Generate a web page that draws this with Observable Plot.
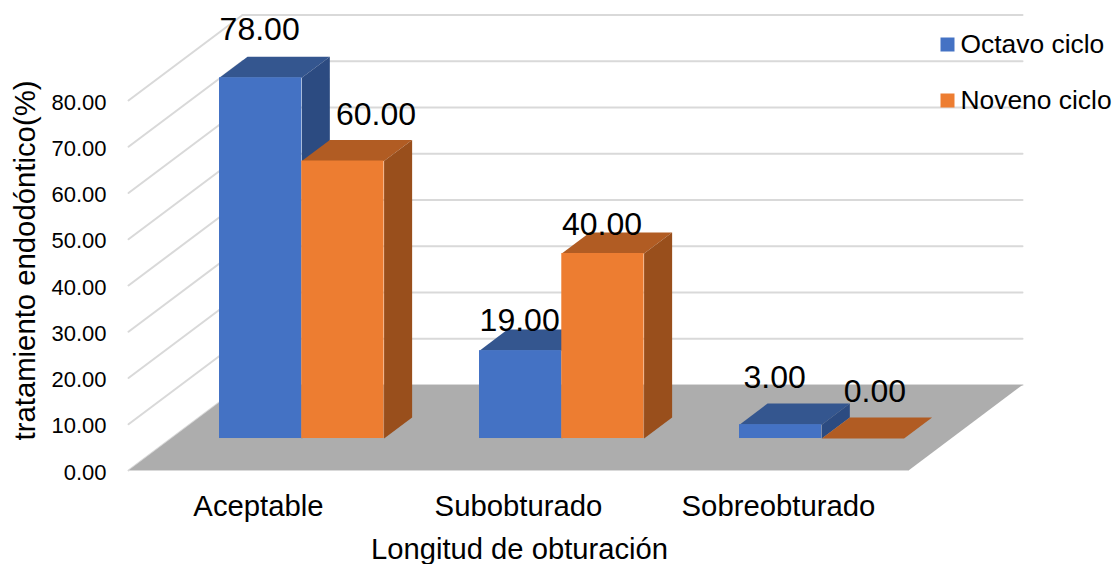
<!DOCTYPE html>
<html lang="es">
<head>
<meta charset="utf-8">
<title>Longitud de obturación</title>
<script src="https://cdn.jsdelivr.net/npm/d3@7"></script>
<script src="https://cdn.jsdelivr.net/npm/@observablehq/plot@0.6"></script>
<style>
  html, body { margin: 0; padding: 0; background: #fff; }
  svg { display: block; }
</style>
</head>
<body>
<div id="chart"></div>
<script>
// Chart values
const categories = ["Aceptable", "Subobturado", "Sobreobturado"];
const seriesNames = ["Octavo ciclo", "Noveno ciclo"];
const octavo = [78, 19, 3];
const noveno = [60, 40, 0];
const valueTicks = [0, 10, 20, 30, 40, 50, 60, 70, 80];

// Oblique projection: one unit of depth runs from the front of the floor to the back wall,
// expressed in x units (categories) and y units (percent).
const depthX = 0.4385;
const depthY = 18.49;
const project = (cat, value, depth) => ({x: cat + depth * depthX, y: value + depth * depthY});

// Placement of the boxes on the floor, in category and depth units
const barStart = 0.186;
const barWidth = 0.3165;
const depthFront = 0.374;
const depthBack = 0.62;

const palette = [
  {front: "#4472C4", top: "#34568F", side: "#2C4B81"},
  {front: "#ED7D31", top: "#B15C23", side: "#994F1C"}
];

const FONT = "'Liberation Sans', Arial, sans-serif";
const GRID = "#D9D9D9";
const fmt = d3.format(".2f");

// A filled polygon given as [category, value, depth] corners
const face = (corners, fill) =>
  Plot.line(corners.map(([c, v, d]) => project(c, v, d)), {x: "x", y: "y", fill, stroke: "none"});

// Wall gridlines: along the left wall, then across the back wall
const gridMarks = valueTicks.flatMap((v) => [
  Plot.line([project(0, v, 0), project(0, v, 1)], {x: "x", y: "y", stroke: GRID, strokeWidth: 2}),
  Plot.line([project(0, v, 1), project(3, v, 1)], {x: "x", y: "y", stroke: GRID, strokeWidth: 2})
]);

const floor = [
  face([[0, 0, 0], [3, 0, 0], [3, 0, 1], [0, 0, 1]], "#ADADAD"),
  Plot.line([project(0, 0, 0), project(3, 0, 0)], {x: "x", y: "y", stroke: GRID, strokeWidth: 1.2})
];

// One box per category and series, left to right so nearer faces cover farther ones
const bars = categories.flatMap((_, i) =>
  [octavo[i], noveno[i]].flatMap((value, s) => {
    const x0 = i + barStart + s * barWidth;
    const x1 = x0 + barWidth;
    const c = palette[s];
    const base = project(x0, 0, depthFront);
    const lift = project(x1, value, depthFront);
    return [
      face([[x0, value, depthFront], [x1, value, depthFront], [x1, value, depthBack], [x0, value, depthBack]], c.top),
      face([[x1, 0, depthFront], [x1, value, depthFront], [x1, value, depthBack], [x1, 0, depthBack]], c.side),
      Plot.rect([{x1: base.x, x2: lift.x, y1: base.y, y2: lift.y}], {x1: "x1", x2: "x2", y1: "y1", y2: "y2", fill: c.front})
    ];
  })
);

// Hand-placed nudges of the value labels, per category and series
const labelNudge = [
  [[-1, -48], [33, -46]],
  [[-1, -30], [-1, -29]],
  [[-6, -47], [12, -47]]
];

const valueLabels = categories.flatMap((_, i) =>
  [octavo[i], noveno[i]].map((value, s) => {
    const x0 = i + barStart + s * barWidth;
    const p = project(x0 + barWidth / 2, value, depthFront);
    const [dx, dy] = labelNudge[i][s];
    return Plot.text([value], {
      x: () => p.x, y: () => p.y, text: (d) => fmt(d),
      dx, dy, fontSize: 32, fill: "#000", lineAnchor: "middle", textAnchor: "middle"
    });
  })
);

// Legend sits beyond the frame's right edge, at the end of the gridlines
const legend = seriesNames.flatMap((name, s) => {
  const dy = -56 + s * 56;
  return [
    Plot.dot([name], {frameAnchor: "top-right", dx: 39, dy, symbol: "square", r: 7.9, fill: palette[s].front, stroke: "none"}),
    Plot.text([name], {frameAnchor: "top-right", dx: 52, dy, textAnchor: "start", lineAnchor: "middle", fontSize: 26.4, fill: "#000"})
  ];
});

const chart = Plot.plot({
  width: 1115,
  height: 564,
  marginLeft: 128,
  marginRight: 207,
  marginTop: 100,
  marginBottom: 94,
  style: {fontFamily: FONT, background: "#fff", overflow: "visible"},
  x: {type: "linear", domain: [0, 3]},
  y: {type: "linear", domain: [0, 80]},
  marks: [
    ...gridMarks,
    ...floor,
    ...bars,
    ...valueLabels,
    Plot.axisY({
      anchor: "left", ticks: valueTicks, tickFormat: (d) => fmt(d),
      tickSize: 0, tickPadding: 22, fontSize: 22, dy: 2, label: null, fill: "#000"
    }),
    Plot.axisX({
      anchor: "bottom", ticks: [0.5, 1.5, 2.5], tickFormat: (d) => categories[d - 0.5],
      tickSize: 0, tickPadding: 25, fontSize: 29.3, label: null, fill: "#000"
    }),
    Plot.text(["tratamiento endodóntico(%)"], {
      frameAnchor: "left", rotate: -90, dx: -103, dy: -25, fontSize: 29.3, fill: "#000",
      lineAnchor: "middle", textAnchor: "middle"
    }),
    Plot.text(["Longitud de obturación"], {
      frameAnchor: "bottom", dx: 1, dy: 79, fontSize: 29.2, fill: "#000", lineAnchor: "middle"
    }),
    ...legend
  ]
});

document.getElementById("chart").append(chart);
</script>
</body>
</html>
